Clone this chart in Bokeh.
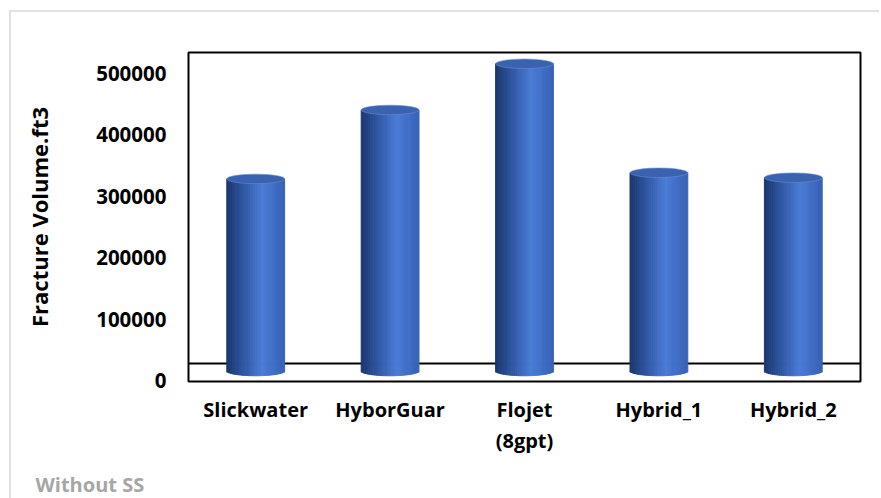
import math
from bokeh.plotting import figure
from bokeh.models import FixedTicker, NumeralTickFormatter, Span, Range1d, ColumnDataSource, Title
from bokeh.embed import file_html
from bokeh.resources import INLINE

# ---- data ----
categories = ["Slickwater", "HyborGuar", "Flojet\n(8gpt)", "Hybrid_1", "Hybrid_2"]
volumes = [328000, 440000, 515000, 338000, 330000]
y_ticks = [0, 100000, 200000, 300000, 400000, 500000]
footer_text = "Without SS"

# ---- style constants ----
FONT = "Open Sans"
BAR_W = 0.43            # cylinder width in category units
BASE = 16000            # cylinder base (3D floor offset)
FLOOR_LINE = 28000      # front edge of 3D floor
Y0, Y1 = -1100, 533300
FRAME_H = 329
PX = (Y1 - Y0) / FRAME_H  # data units per pixel
N_STRIPS = 32
stops = [(0.0, (0x1c, 0x36, 0x6a)), (0.25, (0x2c, 0x52, 0x9c)),
         (0.62, (0x4b, 0x7c, 0xd6)), (1.0, (0x38, 0x62, 0xb6))]


def grad(u):
    for (u0, c0), (u1, c1) in zip(stops[:-1], stops[1:]):
        if u0 <= u <= u1:
            t = (u - u0) / (u1 - u0)
            c = [round(a + (b - a) * t) for a, b in zip(c0, c1)]
            return "#%02x%02x%02x" % tuple(c)
    return "#%02x%02x%02x" % stops[-1][1]


positions = [i + 0.5 for i in range(len(categories))]

p = figure(width=870, height=500, output_backend="svg", toolbar_location=None,
           x_range=Range1d(0, len(categories)), y_range=Range1d(Y0, Y1),
           min_border_left=177, min_border_right=21, min_border_top=40,
           min_border_bottom=131)
p.styles = {"margin-left": "9px", "margin-top": "10px",
            "border-top": "2px solid #e2e2e2", "border-left": "2px solid #e2e2e2"}

p.xgrid.visible = False
p.ygrid.visible = False
p.outline_line_color = "black"
p.outline_line_width = 2
p.background_fill_color = "white"
p.border_fill_color = "white"

# floor line (behind cylinders)
p.add_layout(Span(location=FLOOR_LINE, dimension="width", line_color="black",
                  line_width=2, level="underlay"))

# cylinder bodies as gradient strips
left, right, bottom, top, colors = [], [], [], [], []
half_h = 4.8 * PX
for pos, v in zip(positions, volumes):
    for k in range(N_STRIPS):
        u0 = k / N_STRIPS
        u1 = (k + 1) / N_STRIPS
        uc = (u0 + u1) / 2
        left.append(pos - BAR_W / 2 + u0 * BAR_W)
        right.append(pos - BAR_W / 2 + u1 * BAR_W)
        bottom.append(BASE - half_h * math.sqrt(max(0.0, 1 - (2 * uc - 1) ** 2)))
        top.append(v)
        colors.append(grad(uc))
src = ColumnDataSource(dict(left=left, right=right, bottom=bottom, top=top, color=colors))
p.quad(left="left", right="right", bottom="bottom", top="top", source=src,
       fill_color="color", line_color="color", line_width=1)

# cylinder tops
p.ellipse(x=positions, y=volumes, width=BAR_W, height=9.5, height_units="screen",
          fill_color="#3a62ae", line_color="#6a8fd2", line_width=0.8, line_alpha=0.7)

# axes
p.yaxis.ticker = FixedTicker(ticks=y_ticks)
p.yaxis.formatter = NumeralTickFormatter(format="0")
p.yaxis.axis_line_color = None
p.yaxis.major_tick_line_color = None
p.yaxis.minor_tick_line_color = None
p.yaxis.major_tick_out = 0
p.yaxis.major_label_standoff = 22
p.yaxis.major_label_text_font = FONT
p.yaxis.major_label_text_font_style = "bold"
p.yaxis.major_label_text_font_size = "20.5px"
p.yaxis.major_label_text_color = "black"
p.yaxis.axis_label = "Fracture Volume.ft3"
p.yaxis.axis_label_text_font = FONT
p.yaxis.axis_label_text_font_style = "bold"
p.yaxis.axis_label_text_font_size = "22px"
p.yaxis.axis_label_text_color = "black"
p.yaxis.axis_label_standoff = 39

p.xaxis.ticker = FixedTicker(ticks=positions)
p.xaxis.major_label_overrides = {pos: c for pos, c in zip(positions, categories)}
p.xaxis.axis_line_color = None
p.xaxis.major_tick_line_color = None
p.xaxis.minor_tick_line_color = None
p.xaxis.major_tick_out = 0
p.xaxis.major_label_standoff = 14
p.xaxis.major_label_text_font = FONT
p.xaxis.major_label_text_font_style = "bold"
p.xaxis.major_label_text_font_size = "20px"
p.xaxis.major_label_text_color = "black"
p.xaxis.major_label_text_line_height = 1.16

p.add_layout(Title(text=footer_text, align="left", offset=-153, standoff=24,
                   text_font=FONT, text_font_style="bold", text_font_size="20px",
                   text_color="#a6a6a6"), "below")

open("out.html", "w").write(file_html(p, INLINE))
